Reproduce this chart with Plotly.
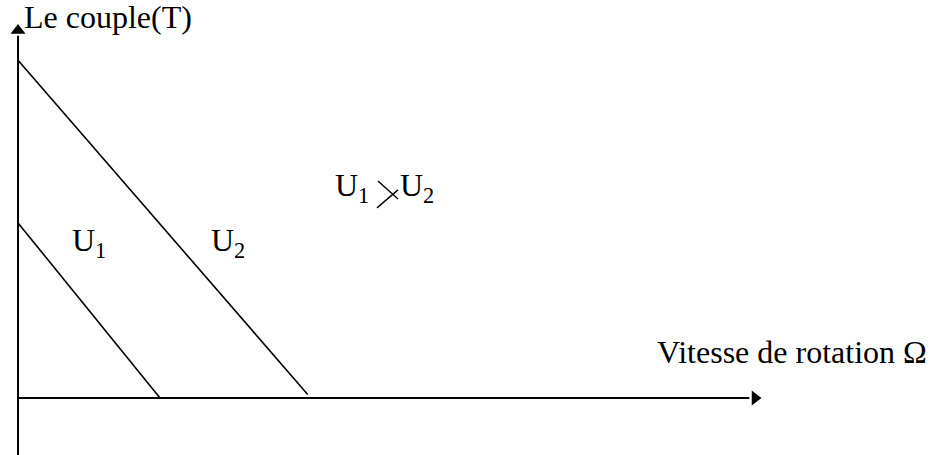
import plotly.graph_objects as go

# Data (arbitrary units)
omega_U1 = [0.0, 1.0]
torque_U1 = [1.0, 0.0]
omega_U2 = [0.0, 2.04]
torque_U2 = [1.93, 0.02]

series_labels = ["U<sub>1</sub>", "U<sub>2</sub>"]
x_title = "Vitesse de rotation Ω"
y_title = "Le couple(T)"

FONT = "Liberation Serif, Times New Roman, serif"
FS = 32

fig = go.Figure()

# axes as lines
fig.add_trace(go.Scatter(x=[0, 0], y=[-0.33, 2.07], mode="lines",
                         line=dict(color="black", width=2), hoverinfo="skip"))
fig.add_trace(go.Scatter(x=[0, 5.15], y=[0, 0], mode="lines",
                         line=dict(color="black", width=2), hoverinfo="skip"))
# arrow heads
fig.add_trace(go.Scatter(x=[0], y=[2.10], mode="markers",
                         marker=dict(symbol="triangle-up", size=13, color="black"), hoverinfo="skip"))
fig.add_trace(go.Scatter(x=[5.19], y=[0], mode="markers",
                         marker=dict(symbol="triangle-right", size=13, color="black"), hoverinfo="skip"))

# characteristic lines
fig.add_trace(go.Scatter(x=omega_U1, y=torque_U1, mode="lines",
                         line=dict(color="black", width=1.6), hoverinfo="skip"))
fig.add_trace(go.Scatter(x=omega_U2, y=torque_U2, mode="lines",
                         line=dict(color="black", width=1.6), hoverinfo="skip"))

# cross glyph of "U1 > U2"
fig.add_trace(go.Scatter(x=[2.535, 2.676], y=[1.24, 1.137], mode="lines",
                         line=dict(color="black", width=1.4), hoverinfo="skip"))
fig.add_trace(go.Scatter(x=[2.528, 2.676], y=[1.086, 1.189], mode="lines",
                         line=dict(color="black", width=1.4), hoverinfo="skip"))

ann_font = dict(family=FONT, size=FS, color="black")
fig.add_annotation(x=0.5, y=0.89, text=series_labels[0], showarrow=False, font=ann_font)
fig.add_annotation(x=1.479, y=0.89, text=series_labels[1], showarrow=False, font=ann_font)
fig.add_annotation(x=2.486, y=1.2, text=series_labels[0], showarrow=False, font=ann_font,
                   xanchor="right")
fig.add_annotation(x=2.676, y=1.2, text=series_labels[1], showarrow=False, font=ann_font,
                   xanchor="left")
fig.add_annotation(x=5.451, y=0.263, text=x_title, showarrow=False, font=ann_font)
fig.add_annotation(x=0.634, y=2.175, text=y_title, showarrow=False, font=ann_font)

fig.update_layout(
    width=937, height=455,
    margin=dict(l=0, r=0, t=0, b=0),
    paper_bgcolor="white", plot_bgcolor="white",
    showlegend=False,
    xaxis=dict(range=[-0.127, 6.472], visible=False, fixedrange=True),
    yaxis=dict(range=[-0.326, 2.274], visible=False, fixedrange=True),
)

fig.write_html("out.html", config=dict(displayModeBar=False),
               post_script="document.body.style.margin='0';document.body.style.overflow='hidden';")
